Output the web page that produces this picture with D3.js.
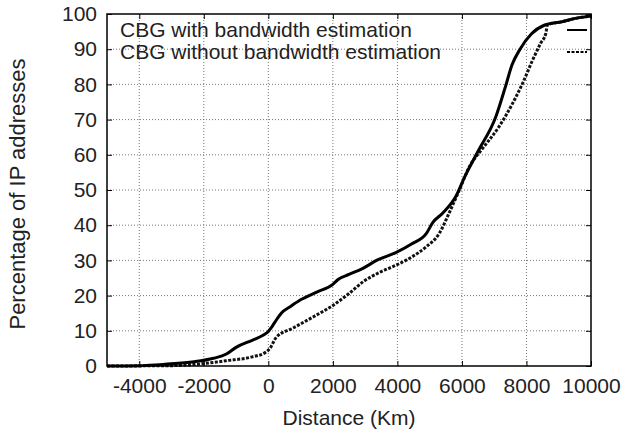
<!DOCTYPE html>
<html><head><meta charset="utf-8">
<script src="https://cdn.jsdelivr.net/npm/d3@7"></script>
<style>
body{margin:0;background:#fff;}
text{font-family:"Liberation Sans",Arial,Helvetica,sans-serif;fill:#222;}
</style></head>
<body><svg id="c" width="626" height="434"></svg>
<script>
const xTicks = [-4000,-2000,0,2000,4000,6000,8000,10000];
const yTicks = [0,10,20,30,40,50,60,70,80,90,100];
const seriesNames = ["CBG with bandwidth estimation","CBG without bandwidth estimation"];
const withBW = [[-5000,0],[-4000,0.1],[-3200,0.5],[-2300,1.2],[-1700,2.2],[-1300,3.4],[-1000,5.3],[-500,7.3],[-150,8.8],[0,9.8],[100,11],[200,12.4],[400,15],[700,17],[1000,18.8],[1500,21],[2000,23.2],[2150,24.5],[2500,26],[2900,27.6],[3400,30.2],[3950,32.2],[4450,34.7],[4900,37.7],[5100,40.8],[5400,43.4],[5800,48],[6100,54],[6500,61],[7050,70.8],[7350,79.4],[7550,85.5],[7800,90],[8150,94.3],[8550,96.8],[9100,97.8],[9600,98.9],[10000,99.4]];
const withoutBW = [[-5000,0],[-3000,0.1],[-2100,0.6],[-1300,1.5],[-500,2.6],[-100,3.8],[50,5],[250,8.2],[750,10.7],[1400,14],[2000,17.2],[2500,20.6],[2950,24],[3450,26.6],[3950,28.6],[4450,31],[4900,33.9],[5300,37.7],[5600,43.4],[5920,50],[6230,56.6],[6640,61.8],[7150,68],[7570,74.6],[7880,80.3],[8190,86.9],[8440,91.7],[8600,94.5],[8650,96.9],[9100,97.8],[9600,98.9],[10000,99.4]];

const L=107,R=591,T=14,B=366;
const svg=d3.select("#c");
const x=d3.scaleLinear().domain([-5000,10000]).range([L,R]);
const y=d3.scaleLinear().domain([0,100]).range([B,T]);

// grid
const grid=svg.append("g");
grid.selectAll(".gx").data(xTicks.filter(v=>v>-5000&&v<10000)).enter().append("line")
  .attr("x1",d=>x(d)).attr("x2",d=>x(d)).attr("y1",T).attr("y2",B)
  .attr("stroke","#777").attr("stroke-width",1).attr("stroke-dasharray","1,2");
grid.selectAll(".gy").data(yTicks.filter(v=>v>0&&v<100)).enter().append("line")
  .attr("x1",L).attr("x2",R).attr("y1",d=>y(d)).attr("y2",d=>y(d))
  .attr("stroke","#777").attr("stroke-width",1).attr("stroke-dasharray","1,2");

// axes
const fs=21;
const ax=svg.append("g").attr("transform",`translate(0,${B})`)
  .call(d3.axisBottom(x).tickValues(xTicks).tickSize(-5).tickPadding(12).tickFormat(d=>String(d)));
const ay=svg.append("g").attr("transform",`translate(${L},0)`)
  .call(d3.axisLeft(y).tickValues(yTicks).tickSize(-5).tickPadding(10).tickFormat(d=>String(d)));
const axT=svg.append("g").attr("transform",`translate(0,${T})`)
  .call(d3.axisTop(x).tickValues(xTicks).tickSize(-5).tickFormat(""));
const ayR=svg.append("g").attr("transform",`translate(${R},0)`)
  .call(d3.axisRight(y).tickValues(yTicks).tickSize(-5).tickFormat(""));
[ax,ay,axT,ayR].forEach(g=>{g.select(".domain").remove();g.selectAll("line").attr("stroke","#000");
  g.selectAll("text").style("font-size",fs+"px").style("font-family","Liberation Sans, Arial, sans-serif").attr("fill","#222");});
ax.selectAll("text").attr("dy","0.71em");

// curves
const line=d3.line().x(d=>x(d[0])).y(d=>y(d[1])).curve(d3.curveMonotoneX);
svg.append("path").datum(withoutBW).attr("d",line).attr("fill","none")
  .attr("stroke","#111").attr("stroke-width",3).attr("stroke-dasharray","3,1.5");
svg.append("path").datum(withBW).attr("d",line).attr("fill","none")
  .attr("stroke","#000").attr("stroke-width",3);

// frame
svg.append("rect").attr("x",L).attr("y",T).attr("width",R-L).attr("height",B-T)
  .attr("fill","none").attr("stroke","#000").attr("stroke-width",1.5);

// legend
const leg=[{t:seriesNames[0],y:30,dash:null},{t:seriesNames[1],y:52,dash:"3,1.5"}];
leg.forEach(l=>{
  svg.append("text").attr("x",120).attr("y",l.y).attr("dy","0.35em").style("font-size","21px").text(l.t);
  svg.append("line").attr("x1",567).attr("x2",587).attr("y1",l.y).attr("y2",l.y)
    .attr("stroke","#000").attr("stroke-width",2).attr("stroke-dasharray",l.dash);
});

// axis titles
svg.append("text").attr("x",(L+R)/2).attr("y",418).attr("dy","0.35em").attr("text-anchor","middle")
  .style("font-size","21px").text("Distance (Km)");
svg.append("text").attr("transform",`translate(17,${(T+B)/2+4}) rotate(-90)`).attr("dy","0.35em")
  .attr("text-anchor","middle").style("font-size","22px").text("Percentage of IP addresses");
</script></body></html>
